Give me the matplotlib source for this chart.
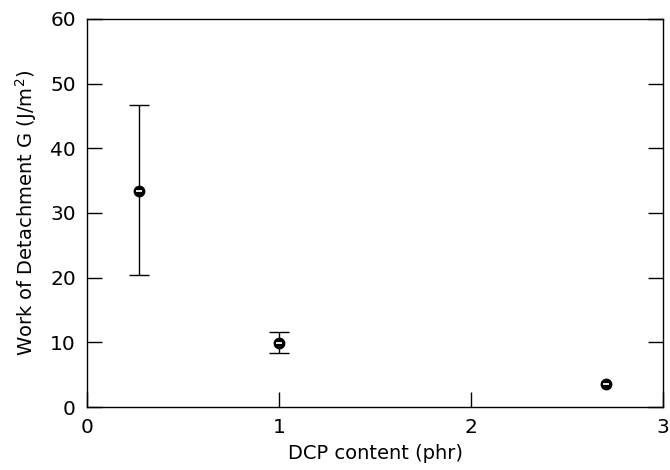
import matplotlib
matplotlib.use("Agg")
import matplotlib.pyplot as plt
import numpy as np

dcp = [0.27, 1.0, 2.7]
work = [33.4, 9.9, 3.6]
err_low = [20.4, 8.3, np.nan]
err_high = [46.7, 11.6, np.nan]

fig = plt.figure(figsize=(6.7, 4.7), dpi=100)
ax = fig.add_axes([0.130, 0.134, 0.860, 0.826])

ex = [x for x, l in zip(dcp, err_low) if not np.isnan(l)]
ew = [w for w, l in zip(work, err_low) if not np.isnan(l)]
el = [w - l for w, l in zip(work, err_low) if not np.isnan(l)]
eh = [h - w for w, h in zip(work, err_high) if not np.isnan(h)]
ax.errorbar(ex, ew, yerr=[el, eh], fmt='none', ecolor='black', elinewidth=1.0,
            capsize=7, capthick=1.0)
ax.plot(dcp, work, 'o', color='black', markersize=7.5, zorder=3)
ax.plot(dcp, work, '_', color='white', markersize=4, markeredgewidth=1.3, zorder=4)

ax.set_xlim(0, 3)
ax.set_ylim(0, 60)
ax.set_xticks([0, 1, 2, 3])
ax.set_yticks([0, 10, 20, 30, 40, 50, 60])
ax.tick_params(direction='in', length=11, width=1, top=False, right=True,
               labelsize=14.5, pad=8)
for s in ax.spines.values():
    s.set_linewidth(1.0)

ax.set_xlabel('DCP content (phr)', fontsize=14, labelpad=5)
ax.set_ylabel('Work of Detachment G (J/m$^2$)', fontsize=14, labelpad=8)

fig.savefig('out.png', dpi=100)
